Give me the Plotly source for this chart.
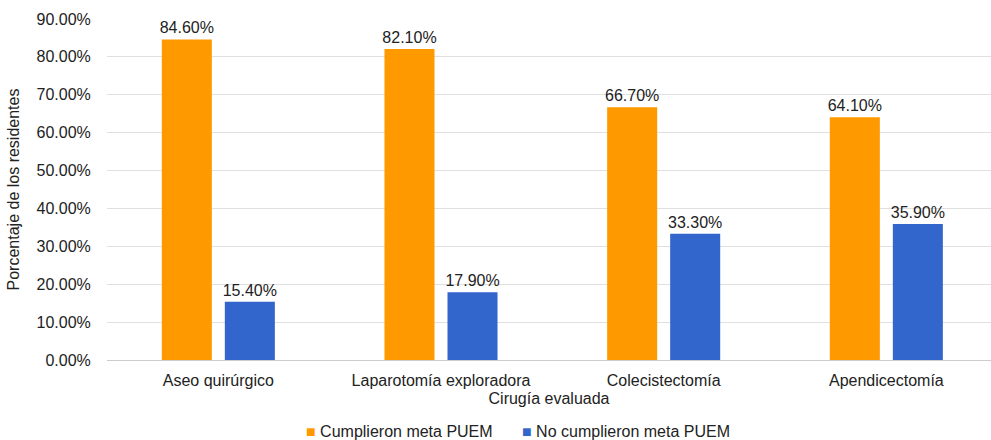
import plotly.graph_objects as go

categories = ["Aseo quirúrgico", "Laparotomía exploradora", "Colecistectomía", "Apendicectomía"]
cumplieron = [84.6, 82.1, 66.7, 64.1]
no_cumplieron = [15.4, 17.9, 33.3, 35.9]
series_names = ["Cumplieron meta PUEM", "No cumplieron meta PUEM"]
series_colors = ["#FF9900", "#3366CC"]
y_ticks = [0, 10, 20, 30, 40, 50, 60, 70, 80, 90]
y_tick_labels = [f"{v:.2f}%" for v in y_ticks]

FONT = "Liberation Sans, Arial, sans-serif"
TXT = "#222222"
FS = 16

fig = go.Figure()
for vals, name, color in [(cumplieron, series_names[0], series_colors[0]),
                          (no_cumplieron, series_names[1], series_colors[1])]:
    fig.add_trace(go.Bar(
        x=categories, y=vals, name=name, showlegend=False,
        marker=dict(color=color, line=dict(width=0)),
        texttemplate="%{y:.2f}%", textposition="outside", constraintext="none",
        textfont=dict(family=FONT, size=FS, color=TXT), cliponaxis=False,
    ))

# Legend drawn as text with coloured square glyphs (bottom centre)
legend_x = [0.2229, 0.467]
for name, color, lx in zip(series_names, series_colors, legend_x):
    fig.add_annotation(
        xref="paper", yref="paper", x=lx, y=-0.211, xanchor="left", yanchor="middle",
        text=f"<span style='color:{color}'>■</span> {name}", showarrow=False,
        font=dict(family=FONT, size=FS, color=TXT),
    )

fig.update_layout(
    width=991, height=440,
    margin=dict(l=107, r=0, t=19, b=80, autoexpand=False),
    paper_bgcolor="white", plot_bgcolor="white",
    font=dict(family=FONT, size=FS, color=TXT),
    barmode="group", bargap=0.434, bargroupgap=0.206,
    showlegend=False,
    xaxis=dict(
        range=[-0.5, 3.47], automargin=False,
        title=dict(text="Cirugía evaluada", font=dict(size=FS, color=TXT), standoff=4),
        showgrid=False, showline=True, linecolor="#cccccc", linewidth=1,
        ticks="outside", ticklen=6, tickcolor="rgba(0,0,0,0)",
        tickfont=dict(size=FS, color=TXT),
    ),
    yaxis=dict(
        range=[0, 90], tickmode="array", tickvals=y_ticks, ticktext=y_tick_labels,
        automargin=False,
        title=dict(text="Porcentaje de los residentes", font=dict(size=FS, color=TXT), standoff=12),
        showgrid=True, gridcolor="#e0e0e0", gridwidth=1,
        zeroline=False, showline=False,
        ticks="outside", ticklen=12, tickcolor="rgba(0,0,0,0)",
        tickfont=dict(size=FS, color=TXT),
    ),
)

fig.write_html("out.html")
